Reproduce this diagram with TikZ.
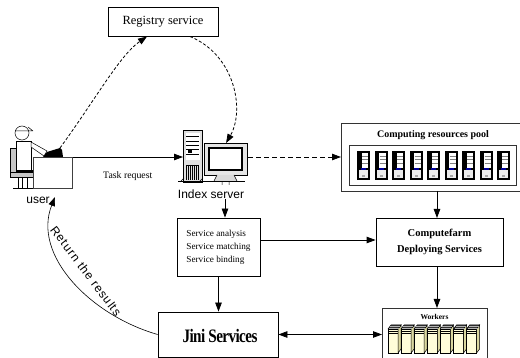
\documentclass[tikz,border=0pt]{standalone}
\usepackage{fontspec}
\setmainfont{Liberation Serif}
\newfontfamily\sansf{Liberation Sans}
\usetikzlibrary{arrows.meta}
\begin{document}
\begin{tikzpicture}[x=1pt,y=-1pt,
  box/.style={draw=black,line width=0.8pt,fill=white,inner sep=0pt},
  conn/.style={line width=0.8pt,-{Triangle[length=9pt,width=6.5pt]}},
  biconn/.style={line width=0.8pt,{Triangle[length=9pt,width=6.5pt]}-{Triangle[length=9pt,width=6.5pt]}},
  dconn/.style={conn,dash pattern=on 3pt off 2pt},
  lbl/.style={inner sep=0pt},
  thin/.style={line width=0.5pt}]
\clip (0,0) rectangle (520,358);
\fill[white] (0,0) rectangle (520,358);

% ---------- user at the desk ----------
\filldraw[thin,fill=gray!45] (10,148) rectangle (16,173);
\filldraw[thin,fill=gray!45] (10,172) rectangle (33,177);
\draw[thin] (18,177) rectangle (27,188) (22,177) -- (22,188) (13,188) -- (33,188);
\filldraw[thin,fill=white] (16,141) rectangle (31,172);
\draw[line width=1.6pt] (16,171) -- (33,171);
\filldraw[thin,fill=white] (31,142) -- (47,151) -- (44,156) -- (31,147) -- cycle;
\filldraw[thin,fill=white] (22,133) circle (7);
\draw[thin] (15,131) -- (33,131) (28,127) -- (33,131);
\node[draw=gray!50!black,line width=0.6pt,fill=white,minimum width=39,minimum height=31,anchor=north west,inner sep=0pt] (desk) at (33,157) {};
\fill[black] (43,157) -- (47,152) -- (60,148) -- (62,150) -- (63,157) -- cycle;
\coordinate (laptop) at (60,148);
\node[lbl,font=\sansf\fontsize{12}{12}\selectfont] (user) at (38,200) {user};
\coordinate (usertip) at (55,197);

% ---------- index server ----------
\node[draw=black,line width=0.8pt,fill=gray!25,minimum width=19,minimum height=52,anchor=north west,inner sep=0pt] (tower) at (183,130) {};
\fill[white] (185.5,133) rectangle (199.5,160);
\draw[line width=0.7pt] (186,136) -- (199,136) (186,141) -- (199,141) (186,145) -- (199,145) (186,149) -- (199,149) (186,154) -- (199,154);
\fill[black] (188,150) rectangle (192,153);
\foreach \i in {0,...,6} \draw[line width=0.6pt] (186.5+2*\i,165) -- (186.5+2*\i,180);
\draw[line width=0.6pt] (186,165) -- (199,165);
\node[draw=black,line width=1.2pt,fill=gray!20,minimum width=43,minimum height=32,anchor=north west,inner sep=0pt] (monitor) at (204,143) {};
\draw[line width=1.8pt,fill=white] (209,148) rectangle (242,170);
\fill[gray!30] (217,175) -- (234,175) -- (237,181) -- (214,181) -- cycle;
\draw[thin] (217,175) -- (214,181) (234,175) -- (237,181);
\draw[line width=1pt] (178,182) -- (245,182);
\draw[thin] (180,182) -- (184,178) (199,182) -- (203,178) (222,182) -- (222,185) (229,182) -- (229,185);
\node[lbl,font=\sansf\fontsize{12}{12}\selectfont] (idx) at (211,194) {Index server};
\coordinate (idxout) at (225,199);

% ---------- registry ----------
\node[box,minimum width=110,minimum height=29,font=\fontsize{12.5}{14}\selectfont] (registry) at (163,21.5) {Registry service};
\coordinate (regin) at (147,36.5);
\coordinate (regout) at (190,36.5);

% ---------- service box ----------
\node[box,minimum width=83,minimum height=58,align=left,font=\fontsize{9.2}{13}\selectfont] (svc) at (218.5,247) {Service analysis\\Service matching\\Service binding};

% ---------- computing resources pool ----------
\node[draw=black!80,line width=1pt,fill=white,minimum width=184,minimum height=68,anchor=north west,inner sep=0pt] (pool) at (341,123) {};
\node[lbl,font=\bfseries\fontsize{10}{10}\selectfont] (pooltitle) at (433,135) {Computing resources pool};
\node[draw=black!80,line width=0.8pt,minimum width=167,minimum height=40.5,anchor=north west,inner sep=0pt] (poolin) at (349,145) {};
\foreach \i in {0,...,8} {
  \pgfmathsetmacro{\xx}{357+17.5*\i}
  \fill[black] (\xx,151) rectangle (\xx+13,180);
  \fill[white] (\xx+2,153) rectangle (\xx+11,168);
  \fill[black] (\xx+2,153) rectangle (\xx+4.5,168);
  \draw[gray,line width=0.7pt] (\xx+5,156) -- (\xx+11,156) (\xx+5,159.5) -- (\xx+11,159.5) (\xx+5,163) -- (\xx+11,163);
  \fill[blue!60!black] (\xx+4,168.2) rectangle (\xx+9,170.2);
  \fill[gray!15] (\xx+2,170.2) rectangle (\xx+11,178);
  \fill[gray!70] (\xx+5,175) rectangle (\xx+8,177);
}

% ---------- computefarm ----------
\node[box,minimum width=127,minimum height=48,align=center,font=\bfseries\fontsize{10.5}{16}\selectfont] (cf) at (439.5,242) {Computefarm\\Deploying Services};

% ---------- workers ----------
\node[draw=black!80,line width=0.8pt,fill=white,minimum width=105,minimum height=60,anchor=north west,inner sep=0pt] (wk) at (382,308) {};
\node[lbl,font=\bfseries\fontsize{7.5}{7.5}\selectfont] (wktitle) at (434.5,316.5) {Workers};
\foreach \i in {0,...,6} {
  \pgfmathsetmacro{\xx}{388+13.1*\i}
  \filldraw[fill=yellow!15!white,draw=black,line width=0.5pt] (\xx,329) rectangle (\xx+10,353);
  \filldraw[fill=yellow!45!gray!60,draw=black,line width=0.5pt] (\xx+10,329) -- (\xx+13,325) -- (\xx+13,349) -- (\xx+10,353) -- cycle;
  \filldraw[fill=black!80,draw=black,line width=0.5pt] (\xx,329) -- (\xx+3,325) -- (\xx+13,325) -- (\xx+10,329) -- cycle;
  \draw[gray!60,line width=0.4pt] (\xx+1,328) -- (\xx+11,328) (\xx+2,326.5) -- (\xx+12,326.5);
  \draw[black,line width=0.8pt] (\xx,331) -- (\xx+10,331) (\xx,333) -- (\xx+10,333);
}

% ---------- jini ----------
\node[box,minimum width=120,minimum height=45] (jini) at (218,334.5) {};
\node[lbl,font=\bfseries\fontsize{19}{19}\selectfont] (jinititle) at (220,336) {\scalebox{0.8}[1]{\addfontfeatures{LetterSpace=-4}Jini Services}};

% ---------- connectors ----------
\draw[conn] (desk.north east) -- node[lbl,below=14pt,font=\fontsize{9.8}{10}\selectfont] {Task request} (tower.west |- desk.north);
\draw[dconn] (laptop) .. controls (95,100) and (120,55) .. (regin);
\draw[dconn] (regout) .. controls (235,55) and (245,110) .. (monitor.north);
\draw[conn,dash pattern=on 5pt off 3pt] (monitor.east |- desk.north) -- (pool.west |- desk.north);
\draw[conn] (idxout) -- (idxout |- svc.north);
\draw[conn] (svc.east |- 0,240) -- (cf.west |- 0,240);
\draw[conn] (svc.south) -- (svc.south |- jini.north);
\draw[conn] (437,191) -- (437,218);
\draw[conn] (cf.south -| 437,0) -- (wk.north -| 437,0);
\draw[biconn] (jini.east) -- (jini.east -| wk.west);
\draw[line width=0.6pt,-{Triangle[length=9pt,width=6.5pt]}] (jini.west) .. controls (90,315) and (32,255) .. (usertip);
\node[lbl,rotate=-53,font=\sansf\fontsize{12}{12}\selectfont\addfontfeatures{LetterSpace=8}] (ret) at (86,271) {Return the results};
\end{tikzpicture}
\end{document}
